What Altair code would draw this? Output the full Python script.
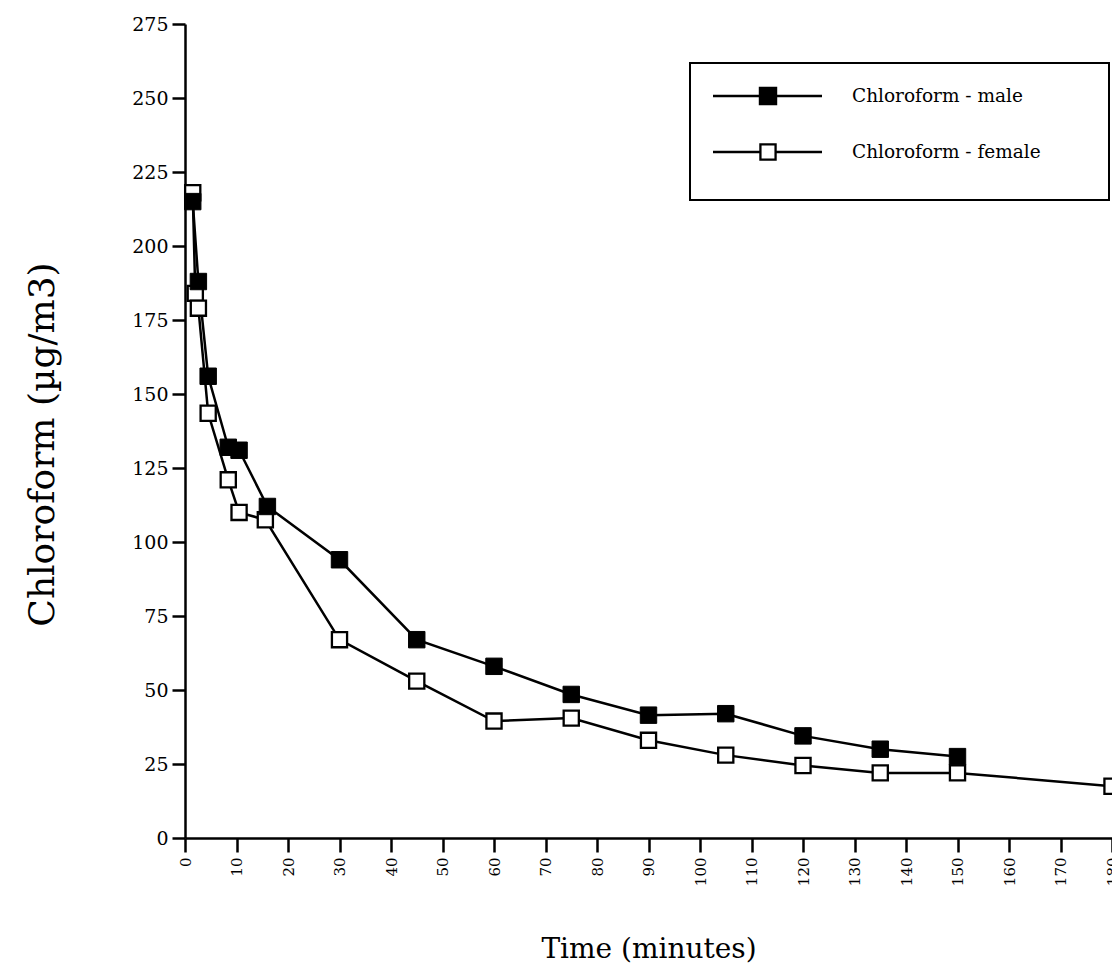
import altair as alt
import pandas as pd

FONT = "DejaVu Serif"

male_t = [1.5, 2.6, 4.5, 8.4, 10.5, 16, 30, 45, 60, 75, 90, 105, 120, 135, 150]
male_v = [215, 188, 156, 132, 131, 112, 94, 67, 58, 48.5, 41.5, 42, 34.5, 30, 27.5]
female_t = [1.5, 2.0, 2.6, 4.5, 8.4, 10.5, 15.6, 30, 45, 60, 75, 90, 105, 120, 135, 150, 180]
female_v = [218, 184, 179, 143.5, 121, 110, 107.5, 67, 53, 39.5, 40.5, 33, 28, 24.5, 22, 22, 17.5]

x_ticks = list(range(0, 181, 10))
y_ticks = list(range(0, 276, 25))
series_names = ["Chloroform - male", "Chloroform - female"]

dfm = pd.DataFrame({"t": male_t, "v": male_v})
dff = pd.DataFrame({"t": female_t, "v": female_v})
one = pd.DataFrame({"a": [0]})

X = alt.X("t:Q", scale=alt.Scale(domain=[0, 180], nice=False, zero=True),
          axis=alt.Axis(values=x_ticks, labelAngle=270, title="Time (minutes)",
                        grid=False, tickSize=14, tickWidth=2.5, domainWidth=2.5,
                        domainColor="black", tickColor="black",
                        labelFont=FONT, labelFontSize=15, labelColor="black",
                        labelPadding=5, titleFont=FONT, titleFontSize=28,
                        titleFontWeight="normal", titleColor="black", titlePadding=50))
Y = alt.Y("v:Q", scale=alt.Scale(domain=[0, 275], nice=False),
          axis=alt.Axis(values=y_ticks, title="Chloroform (µg/m3)", grid=False,
                        tickSize=13, tickWidth=2.5, domainWidth=2.5,
                        domainColor="black", tickColor="black",
                        labelFont=FONT, labelFontSize=19, labelColor="black",
                        labelPadding=4, titleFont=FONT, titleFontSize=36,
                        titleFontWeight="normal", titleColor="black", titlePadding=70,
                        titleY=420))

male_line = alt.Chart(dfm).mark_line(color="black", strokeWidth=2.5).encode(x=X, y=Y)
female_line = alt.Chart(dff).mark_line(color="black", strokeWidth=2.5).encode(x=X, y=Y)
female_pts = alt.Chart(dff).mark_point(shape="square", filled=True, fill="white",
                                       stroke="black", strokeWidth=2.3, size=230,
                                       opacity=1).encode(x=X, y=Y)
male_pts = alt.Chart(dfm).mark_point(shape="square", filled=True, fill="black",
                                     stroke="black", strokeWidth=1, size=270,
                                     opacity=1).encode(x=X, y=Y)

# legend (drawn in pixel space of the plot area)
box = alt.Chart(one).mark_rect(fill="white", stroke="black", strokeWidth=2).encode(
    x=alt.value(505), x2=alt.value(924), y=alt.value(39), y2=alt.value(176))
leg = []
for i, name in enumerate(series_names):
    yy = 72 + i * 56
    leg.append(alt.Chart(one).mark_rule(color="black", strokeWidth=2.5).encode(
        x=alt.value(528), x2=alt.value(637), y=alt.value(yy)))
    if i == 0:
        leg.append(alt.Chart(one).mark_point(shape="square", filled=True, fill="black",
                                             stroke="black", size=270, opacity=1).encode(
            x=alt.value(583), y=alt.value(yy)))
    else:
        leg.append(alt.Chart(one).mark_point(shape="square", filled=True, fill="white",
                                             stroke="black", strokeWidth=2.3, size=230,
                                             opacity=1).encode(
            x=alt.value(583), y=alt.value(yy)))
    leg.append(alt.Chart(one).mark_text(text=name, font=FONT, fontSize=18.5, align="left",
                                        baseline="middle", color="black").encode(
        x=alt.value(667), y=alt.value(yy)))

chart = alt.layer(male_line, female_line, female_pts, male_pts, box, *leg).properties(
    width=927, height=814,
    autosize=alt.AutoSizeParams(type="none"),
    padding={"left": 177, "top": 16, "right": 0, "bottom": 130},
    background="white",
).configure_view(strokeWidth=0)

chart.save("out.html", embed_options={"renderer": "svg", "actions": False})
